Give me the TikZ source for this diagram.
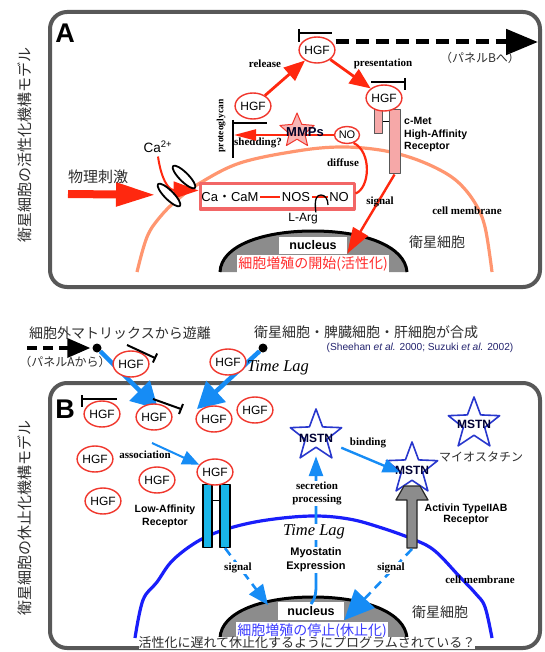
\documentclass[tikz,border=0pt]{standalone}
\usepackage{fontspec}
\setmainfont{Liberation Sans}
\newfontfamily\tms{Liberation Serif}
\newfontfamily\jp{Noto Sans CJK JP}
\usetikzlibrary{arrows.meta,shapes.geometric}

\definecolor{framec}{RGB}{88,88,88}
\definecolor{hred}{RGB}{255,40,15}
\definecolor{circred}{RGB}{240,55,45}
\definecolor{memorange}{RGB}{255,150,112}
\definecolor{boxred}{RGB}{242,102,102}
\definecolor{pinkfill}{RGB}{246,168,168}
\definecolor{arrblue}{RGB}{22,140,245}
\definecolor{memblue}{RGB}{25,30,250}
\definecolor{starblue}{RGB}{40,55,205}
\definecolor{cyanrec}{RGB}{25,182,232}
\definecolor{nucgray}{RGB}{140,140,140}
\definecolor{txtgray}{RGB}{45,45,45}
\definecolor{redtxt}{RGB}{255,45,45}
\definecolor{bluetxt}{RGB}{60,60,255}
\definecolor{citetxt}{RGB}{35,35,110}

\newcommand{\fsz}[1]{\fontsize{#1}{#1}\selectfont}

\begin{document}
\begin{tikzpicture}[x=1pt, y=-1pt, line join=round,
  frameline/.style={draw=framec, line width=4pt, rounded corners=17pt},
  hgf/.style={ellipse, draw=circred, line width=1.4pt, fill=white, minimum width=32pt, minimum height=26pt, inner sep=0pt, font=\fsz{12}},
  jptxt/.style={font=\jp\fsz{#1}, text=txtgray, inner sep=1pt},
  serlab/.style={font=\tms\bfseries\fsz{11}, inner sep=1pt},
  tbar/.style={draw=black, line width=2.2pt},
  memA/.style={draw=memorange, line width=3.2pt},
  memB/.style={draw=memblue, line width=3.2pt},
  redarrow/.style={draw=hred, line width=2.8pt, -{Triangle[length=21pt,width=17pt]}},
  redline/.style={draw=hred, line width=2.2pt},
  bluebig/.style={draw=arrblue, line width=4.5pt, -{Triangle[length=26pt,width=28pt]}},
  bluemid/.style={draw=arrblue, line width=2.4pt, -{Triangle[length=17pt,width=14pt]}},
  bluedash/.style={draw=arrblue, line width=2.6pt, dash pattern=on 9pt off 6pt},
  mstn/.style={star, star points=5, star point ratio=2.4, draw=starblue, line width=1.6pt, fill=white, minimum size=54pt, inner sep=0pt},
  mstntxt/.style={font=\bfseries\fsz{12}, text=black!80!blue, inner sep=0pt},
  dot/.style={circle, fill=black, minimum size=9pt, inner sep=0pt},
  channel/.style={ellipse, draw=black, line width=1.8pt, fill=white, minimum width=31pt, minimum height=9pt, inner sep=0pt, rotate=-45},
]
\useasboundingbox (0,0) rectangle (544,652);

% ================= panel A : activation =================
\draw[frameline] (50,12) rectangle (540,287);
\node[font=\bfseries\fsz{27}] (labA) at (65,33) {A};
\node[jptxt=15, rotate=90] (titleA) at (25,145) {衛星細胞の活性化機構モデル};

% cell membrane
\draw[memA] plot[smooth, tension=0.6] coordinates {(137,272) (147,237) (160,217) (177,200) (200,183) (240,163) (297,151) (340,147) (380,150) (412,158) (440,170) (459,183) (475,203) (485,227) (492,272)};

% nucleus
\fill[nucgray] (220,272) .. controls (221,246) and (262,231) .. (313,231) .. controls (364,231) and (405,246) .. (407,272) -- cycle;
\node[fill=white, font=\bfseries\fsz{12.5}, minimum width=68pt, minimum height=17pt, inner sep=0pt] (nucA) at (313,245) {nucleus};
\node[fill=white, text=redtxt, font=\jp\fsz{14}, inner sep=1.5pt] (startA) at (313,264) {細胞増殖の開始(活性化)};
\draw[line width=3pt] (220,272) .. controls (221,246) and (262,231) .. (313,231) .. controls (364,231) and (405,246) .. (407,272);

\node[jptxt=14] (cellA) at (437,242) {衛星細胞};
\node[serlab] (cmA) at (467,211) {cell membrane};

% c-Met receptor
\node[draw=framec, fill=pinkfill, line width=1pt, minimum width=8pt, minimum height=24pt, inner sep=0pt] (metS) at (378,122) {};
\node[draw=framec, fill=pinkfill, line width=1pt, minimum width=11pt, minimum height=64pt, inner sep=0pt] (metL) at (394.5,142) {};
\draw[line width=1pt] (metS.east) -- (metS.east -| metL.west);
\node[font=\fontsize{10.5}{12.5}\selectfont\bfseries, align=left, anchor=west, inner sep=0pt] (metTxt) at (404,134.5) {c-Met\\High-Affinity\\Receptor};

% HGF release / presentation
\node[hgf] (hgfTop) at (317,50) {HGF};
\node[hgf] (hgfLeft) at (253,106) {HGF};
\node[hgf] (hgfMet) at (384,98) {HGF};
\draw[tbar] (299,29) -- (299,42);
\draw[tbar] (299,33) -- (332,33);
\draw[tbar] (371,82) -- (405,82);
\draw[tbar] (405,78) -- (405,90);
\coordinate (toB) at (538,42);
\draw[line width=5pt, dash pattern=on 13pt off 7pt, -{Triangle[length=32pt,width=25pt]}] (hgfTop.east |- toB) -- (toB);
\node[jptxt=12] (toBtxt) at (480,58) {（パネルBへ）};
\node[serlab] (relTxt) at (265,64) {release};
\node[serlab] (presTxt) at (383,64) {presentation};
\draw[redarrow] (hgfLeft) -- (hgfTop);
\draw[redarrow] (hgfTop) -- (hgfMet);

% proteoglycan and MMPs
\draw[tbar] (233,120) -- (233,158);
\draw[tbar] (233,123) -- (267,123);
\node[font=\tms\bfseries\fsz{9.5}, rotate=90, inner sep=0pt] (pgTxt) at (221,126) {proteoglycan};
\node[serlab] (shedTxt) at (258,143) {shedding?};
\node[hgf, minimum width=25pt, minimum height=17pt, font=\fsz{11}] (noC) at (347,135) {NO};
\coordinate (pgTip) at (234,133);
\draw[redline, -{Triangle[length=22pt,width=11pt]}] (noC.west) -- (noC.west -| pgTip);
\node[star, star points=5, star point ratio=2.2, draw=circred, line width=1pt, fill=pinkfill, fill opacity=0.85, minimum size=36pt, inner sep=0pt] (mmpStar) at (297,131) {};
\node[font=\bfseries\fsz{13}, text=black!85!blue] (mmpTxt) at (305,132) {MMPs};

% Ca-CaM / NOS box
\node[draw=boxred, line width=3pt, fill=white, minimum width=154pt, minimum height=25pt, inner sep=0pt] (box) at (277,196.5) {};
\node[font=\fsz{13}, inner sep=1.5pt] (cacam) at (230,197) {Ca{\jp ・}CaM};
\node[font=\fsz{13}, inner sep=1.5pt] (nos) at (296,197) {NOS};
\node[font=\fsz{13}, inner sep=1.5pt] (noIn) at (339,197) {NO};
\draw[redline, line width=2.6pt] (cacam) -- (nos);
\draw[redline, line width=2.6pt] (nos) -- (noIn);
\node[font=\fsz{12}, inner sep=1pt] (larg) at (303,219) {L-Arg};
\draw[line width=1.3pt] ([xshift=-3pt]larg.north east) .. controls (314,198) and (317,195) .. (321,195) .. controls (325,195) and (328,199) .. (328,205);
\draw[redline] ([yshift=3pt]box.east) .. controls (370,188) and (372,152) .. (noC.-50);
\node[serlab] (difTxt) at (343,163) {diffuse};

% mechanical stimulus, Ca2+ influx
\node[font=\fsz{13.5}] (ca) at (158,147) {Ca\textsuperscript{2+}};
\coordinate (stim) at (68,194);
\coordinate (ch1pos) at (169,195);
\coordinate (ch2pos) at (184,177);
\draw[hred, line width=8pt, -{Triangle[length=40pt,width=22pt]}, shorten >=13pt] (stim) -- (ch1pos);
\draw[hred, line width=2pt, -{Triangle[length=25pt,width=17pt]}] (ca.south) .. controls (161,178) and (168,190) .. ([yshift=6pt]box.west);
\node[channel] (ch1) at (ch1pos) {};
\node[channel] (ch2) at (ch2pos) {};
\node[jptxt=15] (stimTxt) at (98,177) {物理刺激};

% signal to nucleus
\draw[hred, line width=2.4pt, -{Triangle[length=26pt,width=17pt]}] (metL.south) -- (nucA.south east);
\node[serlab] (sigA) at (380,202) {signal};

% ================= panel B : quiescence =================
\draw[frameline] (50,383) rectangle (540,648);
\node[font=\bfseries\fsz{27}] (labB) at (65,409) {B};
\node[jptxt=15, rotate=90] (titleB) at (25,518) {衛星細胞の休止化機構モデル};

% cell membrane
\draw[memB] plot[smooth, tension=0.6] coordinates {(135,638) (143,600) (157,582) (173,560) (200,540) (230,528) (267,520) (312,516) (349,519) (382,528) (415,540) (435,551) (459,576) (476,594) (485,607) (492,638)};

% nucleus
\fill[nucgray] (220,638) .. controls (221,612) and (262,597) .. (313,597) .. controls (364,597) and (405,612) .. (407,638) -- cycle;
\node[fill=white, font=\bfseries\fsz{12.5}, minimum width=66pt, minimum height=18pt, inner sep=0pt] (nucB) at (311,611) {nucleus};
\node[fill=white, text=bluetxt, font=\jp\fsz{14}, inner sep=1.5pt] (stopB) at (312,631) {細胞増殖の停止(休止化)};
\draw[line width=3pt] (220,638) .. controls (221,612) and (262,597) .. (313,597) .. controls (364,597) and (405,612) .. (407,638);
\node[fill=white, font=\jp\fsz{13}, text=txtgray, inner sep=0pt] (noteB) at (307,643) {活性化に遅れて休止化するようにプログラムされている？};

% HGF released / synthesised between the panels
\node[jptxt=14] (relFree) at (120,333) {細胞外マトリックスから遊離};
\node[jptxt=14] (synth) at (366,332) {衛星細胞・脾臓細胞・肝細胞が合成};
\node[font=\fsz{10.2}, text=citetxt, inner sep=0pt] (cite) at (420,348) {(Sheehan \textit{et al.} 2000; Suzuki \textit{et al.} 2002)};
\node[jptxt=12] (fromA) at (65,362) {（パネルAから）};
\coordinate (dashStart) at (27,348);
\node[dot] (dotL) at (97,348) {};
\node[dot] (dotR) at (263,348) {};
\draw[line width=3.5pt, dash pattern=on 10pt off 6pt, -{Triangle[length=23pt,width=19pt]}, shorten >=2pt] (dashStart) -- (dotL);
\coordinate (tipL) at (158,409);
\coordinate (tipR) at (197,409);
\draw[bluebig] (dotL) -- (tipL);
\draw[bluebig] (dotR) -- (tipR);
\node[hgf] (hm1) at (131,364) {HGF};
\node[hgf] (hm2) at (228,362) {HGF};
\draw[tbar, line width=2pt] (127,345) -- (155,358);
\draw[tbar, line width=2pt] (152.9,362.5) -- (157.1,353.5);
\node[font=\tms\itshape\fsz{16.5}] (lag1) at (278,368) {Time Lag};

% free HGF in panel B
\node[hgf] (b1) at (102,414) {HGF};
\draw[tbar] (82,395) -- (82,407);
\draw[tbar] (82,399) -- (117,399);
\node[hgf] (b2) at (154,417) {HGF};
\draw[tbar, line width=2pt] (153,399) -- (181,409);
\draw[tbar, line width=2pt] (179,414) -- (183,404);
\node[hgf] (b3) at (214,419) {HGF};
\node[hgf] (b4) at (255,410) {HGF};
\node[hgf] (b5) at (95,459) {HGF};
\node[hgf] (b6) at (157,480) {HGF};
\node[hgf] (b7) at (103,501) {HGF};

% low-affinity receptor
\node[draw=black, fill=cyanrec, line width=1.1pt, minimum width=9pt, minimum height=63pt, inner sep=0pt] (lowL) at (207.5,516) {};
\node[draw=black, fill=cyanrec, line width=1.1pt, minimum width=10pt, minimum height=63pt, inner sep=0pt] (lowR) at (225,516) {};
\coordinate (lowLink) at (216,500);
\draw[line width=1pt] (lowL.east |- lowLink) -- (lowR.west |- lowLink);
\node[hgf] (b8) at (215,472) {HGF};
\coordinate (assocS) at (152,443);
\node[serlab] (assocTxt) at (145,455) {association};
\draw[bluemid, line width=2pt] (assocS) -- (b8);
\node[font=\fontsize{10.5}{13}\selectfont\bfseries, align=center, inner sep=0pt] (lowTxt) at (165,516.5) {Low-Affinity\\Receptor};

% myostatin
\node[mstn] (s1) at (474,424) {};
\node[mstntxt] (s1t) at (474,424) {MSTN};
\node[mstn] (s2) at (316,436) {};
\node[mstntxt] (s2t) at (316,438) {MSTN};
\node[mstn] (s3) at (412,469) {};
\node[mstntxt] (s3t) at (412,470) {MSTN};
\node[jptxt=12] (myoJp) at (481,457) {マイオスタチン};
\node[serlab] (bindTxt) at (368,443) {binding};
\draw[bluemid, shorten <=14pt] (s2.-27) -- (s3.195);

% activin receptor
\draw[draw=black!85, fill=nucgray, line width=1.2pt] (407,548) -- (407,500) -- (396,500) -- (404,486) -- (420,486) -- (428,500) -- (417,500) -- (417,548) -- cycle;
\coordinate (actBase) at (412,549);
\node[font=\fontsize{10.5}{11.5}\selectfont\bfseries, align=center, inner sep=0pt] (actTxt) at (466,514.5) {Activin TypeIIAB\\Receptor};

% myostatin expression and secretion
\coordinate (myoBase) at (311,604);
\draw[draw=arrblue, line width=2.8pt, -{Triangle[length=20pt,width=14pt]}, shorten >=8pt] (myoBase) .. controls (316,597) and (316,592) .. (316,584) -- (s2.south);
\node[fill=white, font=\tms\bfseries\fontsize{11}{13}\selectfont, align=center, inner sep=1pt] (secTxt) at (317,493.5) {secretion\\processing};
\node[fill=white, font=\tms\itshape\fsz{16.5}, inner sep=1pt] (lag2) at (314,532) {Time Lag};
\node[fill=white, font=\bfseries\fontsize{11}{14}\selectfont, align=center, inner sep=1pt] (myoTxt) at (316,560) {Myostatin\\Expression};

% signals to nucleus
\coordinate (tipSL) at (268,605);
\draw[bluedash, -{Triangle[length=20pt,width=17pt]}] (lowR.south) -- (tipSL);
\node[serlab, fill=white] (sigL) at (238,568) {signal};
\draw[bluedash, -{Triangle[length=30pt,width=27pt]}] (actBase) -- (nucB.south east);
\node[serlab, fill=white] (sigR) at (391,568) {signal};
\node[serlab] (cmB) at (480,580) {cell membrane};
\node[jptxt=14] (cellB) at (440,612) {衛星細胞};
\end{tikzpicture}
\end{document}
